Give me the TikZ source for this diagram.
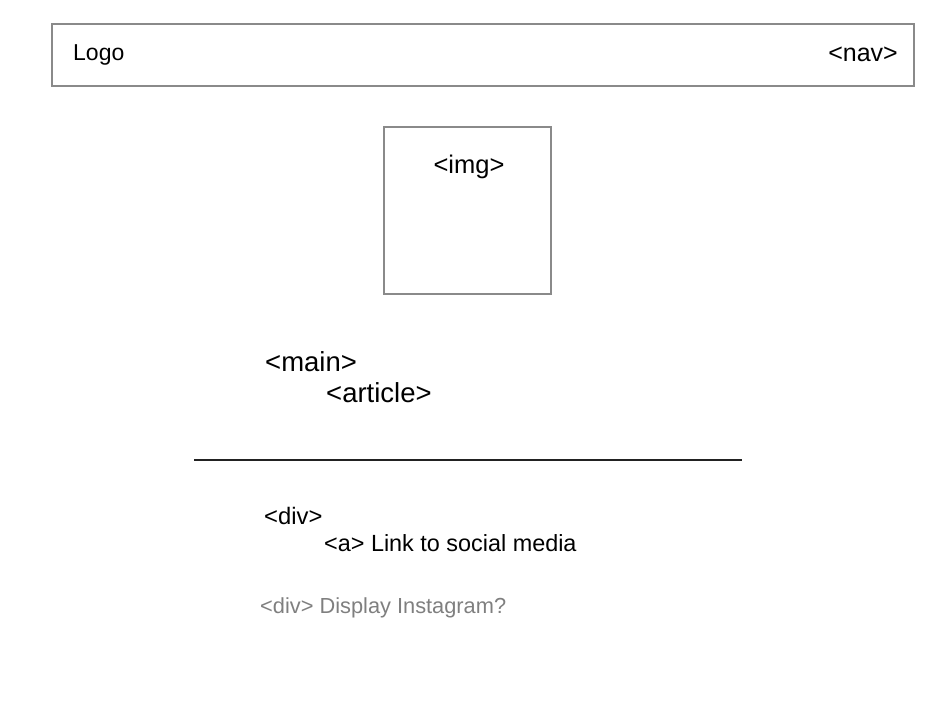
\documentclass[tikz,border=0pt]{standalone}
\usepackage{fontspec}
\setmainfont{Liberation Sans}
\definecolor{boxgray}{HTML}{8A8A8A}
\definecolor{linedark}{HTML}{222222}
\definecolor{softgray}{HTML}{7F7F7F}
\tikzset{
  frame/.style={draw=boxgray, line width=2pt},
  lbl/.style={inner sep=0pt, anchor=base west, font=\fontsize{23}{27}\selectfont},
  bigl/.style={inner sep=0pt, anchor=base west, font=\fontsize{27.5}{32}\selectfont},
}
\begin{document}
\begin{tikzpicture}[x=1pt,y=-1pt]
\useasboundingbox (0,0) rectangle (942,708);
\draw[frame] (52,24) rectangle (914,86);
\node[lbl] (logo) at (73,61) {Logo};
\node[lbl, anchor=base east, font=\fontsize{25}{30}\selectfont] (nav) at (898,62) {<nav>};
\draw[frame] (384,127) rectangle (551,294);
\node[lbl, anchor=base, font=\fontsize{25.5}{30}\selectfont] (img) at (469,174) {<img>};
\node[bigl] (main) at (265,371) {<main>};
\node[bigl] (article) at (326,402) {<article>};
\coordinate (sepL) at (194,460);
\coordinate (sepR) at (742,460);
\draw[linedark, line width=1.3pt] (sepL) -- (sepR);
\node[lbl, font=\fontsize{23.8}{28}\selectfont] (div) at (264,524) {<div>};
\node[lbl, font=\fontsize{23.4}{28}\selectfont] (link) at (324,551) {<a> Link to social media};
\node[lbl, text=softgray, font=\fontsize{21.8}{26}\selectfont] (insta) at (260,613) {<div> Display Instagram?};
\end{tikzpicture}
\end{document}
